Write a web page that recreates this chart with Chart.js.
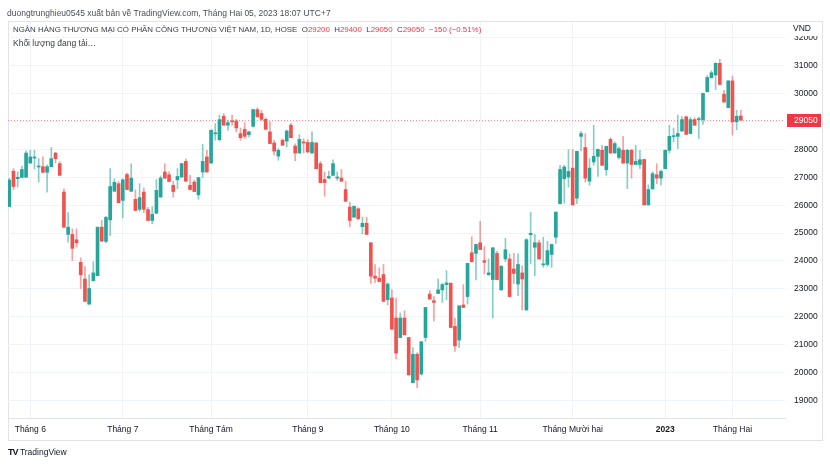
<!DOCTYPE html>
<html>
<head>
<meta charset="utf-8">
<script src="https://cdn.jsdelivr.net/npm/chart.js@4.4.0/dist/chart.umd.min.js"></script>
<style>
  body { margin: 0; background: #fff; width: 830px; height: 464px; overflow: hidden; font-family: "Liberation Sans", Arial, sans-serif; }
  #frame { position: absolute; left: 8px; top: 21px; width: 815px; height: 420px; border: 1px solid #e0e3eb; box-sizing: border-box; }
  canvas { position: absolute; left: 0; top: 0; }
  .txt { position: absolute; white-space: nowrap; font-size: 8.5px; color: #131722; z-index: 2; }
  .r { color: #f23645; }
</style>
</head>
<body>
<div id="frame"></div>
<canvas id="candleChart" width="830" height="464"></canvas>
<div class="txt" style="left:7px;top:8px;color:#4a4d55">duongtrunghieu0545 xuất bản về TradingView.com, Tháng Hai 05, 2023 18:07 UTC+7</div>
<div class="txt" style="left:13px;top:25px;font-size:7.9px;color:#3a3d45">NGÂN HÀNG THƯƠNG MẠI CỔ PHẦN CÔNG THƯƠNG VIỆT NAM, 1D, HOSE&nbsp; O<span class="r">29200</span>&nbsp; H<span class="r">29400</span>&nbsp; L<span class="r">29050</span>&nbsp; C<span class="r">29050</span>&nbsp; <span class="r">−150 (−0.51%)</span></div>
<div class="txt" style="left:13px;top:38px;color:#3a3d45">Khối lượng đang tải…</div>
<div class="txt" style="left:8px;top:447px;color:#131722"><b style="font-size:9px;letter-spacing:-1px">TV</b>&nbsp;TradingView</div>
<script>
// ===============================
//     DATOS (VND, 1D, HOSE)
// ===============================
const opens = [25950,27220,26950,27000,27000,27510,27690,27370,27380,27180,27380,27870,27490,26470,24950,24950,24760,23950,23350,22450,23290,23470,25210,24700,25470,
  26500,26770,26170,27100,26500,26210,25850,26470,25840,25450,25710,26290,27190,27090,26710,26910,27010,27570,26710,26830,26370,27190,27730,27510,28560,
  28350,29190,28870,29020,29020,28570,28720,28530,28830,29430,29290,29080,28630,28230,27760,28330,28300,28870,28120,27870,28270,28250,27870,28230,27490,
  26920,26970,27070,26970,26970,26560,25930,25570,25870,25230,25350,24650,23450,23380,23510,22610,22670,21950,21250,21950,21250,19630,20650,19940,21250,
  22810,22570,22830,22960,23150,23200,21650,21160,22420,22720,24290,24270,24650,24010,23500,23330,24270,22960,24070,24070,23710,23170,23570,22240,24940,
  24490,24650,23860,23870,24230,24850,26050,26950,27010,27330,26250,28470,28070,26860,27550,27750,27970,27270,28360,27870,27710,27970,27510,27970,27460,
  27460,27640,26010,26590,27090,26970,27310,27970,28460,28470,28660,29170,28570,29070,29070,29070,30070,30570,30670,31090,29980,29500,30460,28990,29200];
const highs = [26970,27310,27200,27400,27950,27970,27970,27670,27730,27450,28070,27900,27570,26590,25730,25150,25150,24110,23800,23500,23970,25210,25450,25600,27310,
  26950,26850,26950,27150,27490,26550,26770,26620,25920,25950,26920,27050,27490,27200,26850,27310,27500,27650,27070,26900,27000,28180,27970,28700,28930,
  29230,29290,29050,29230,29080,28770,28960,28660,29450,29500,29400,29130,28990,28330,28030,28380,28700,28940,28200,28530,28380,28350,28630,28250,27570,
  27190,27220,27630,27190,27280,26860,26110,25970,25910,25570,25570,24660,23870,23750,23870,23210,22960,22670,22130,22210,21260,20890,20700,21100,22330,
  22930,22720,23350,23200,23650,23210,21950,22390,23150,23920,24870,24600,25420,24520,24070,24480,24350,23830,24810,24250,24270,24250,23830,24800,25750,
  24950,24750,24850,24700,24600,25760,27430,27430,27990,27990,27940,28650,28570,27670,28870,28020,28150,28120,28420,28270,28080,28470,28000,28000,28150,
  27970,27650,26730,27200,27490,27270,27980,28870,28770,29230,29180,29200,29150,29140,29160,30020,30650,30820,31110,31230,30130,30470,30630,29410,29400];
const lows = [25950,26560,26650,26980,27000,27500,27300,26830,27170,26470,27380,27510,27060,25200,24670,24010,24490,23010,22540,22440,23280,23470,24700,24650,24910,
  26490,26080,25550,26550,26490,25800,25780,25730,25440,25330,25700,26280,26960,26840,26290,26590,27000,26850,26550,26480,26210,26990,27180,27500,28330,
  28300,28860,28690,28870,28630,28330,28390,28450,28800,29160,29050,28710,28200,27790,27610,28150,28090,28410,27590,27860,27870,27880,27860,27300,26800,
  26320,26960,27060,26890,26850,26130,25230,25560,25490,24970,24940,23190,23230,23250,22540,22420,21540,20480,21240,21340,19900,19620,19450,19900,21110,
  22620,21850,22830,22510,22610,21600,20750,20890,22320,22450,23960,23320,24400,23530,23490,21950,23320,22950,23970,22710,23190,22750,22240,22230,23890,
  23470,24060,23770,23800,23770,24630,26040,26070,26650,26000,26050,27950,26830,26710,27430,27030,27420,27070,27860,27860,27650,27500,26590,26970,27450,
  27310,26000,26000,26550,26770,26730,27300,27870,28270,28030,28650,28530,28560,28850,28390,28900,30060,30560,30150,30320,29690,29490,28510,28710,29050];
const closes = [26900,26670,27000,27280,27870,27730,27720,27390,27180,27380,27670,27670,27070,25210,25210,24450,24650,23500,22550,23010,23570,25210,24710,25560,26670,
  26820,26090,26910,26560,26970,25810,26270,25850,25450,25670,26530,26970,26970,26850,26490,27030,27490,26860,26560,26490,26990,27570,27190,28690,28580,
  29070,28870,28960,28990,28770,28420,28470,28630,29430,29170,29080,28720,28210,27940,27970,28150,28660,28420,27870,28360,28230,27910,28250,27310,26810,
  26810,27030,27490,27010,26860,26140,25450,25960,25510,25350,24950,23450,23380,23260,22550,23170,21550,20690,21950,21350,19910,20650,19730,21100,22330,
  22630,22510,22960,23150,23210,21610,20950,22390,22330,23910,23970,24590,24410,23950,23570,24470,23330,23810,24400,22720,23550,23870,23350,24760,24990,
  24650,24070,23880,24370,24590,25750,27280,27370,27210,26010,27930,28570,26970,27330,27750,28000,27430,28110,27870,28210,28030,27510,27970,27460,27570,
  27630,26010,26560,27130,26970,27210,27970,28470,28480,28570,29070,28540,29070,28870,29090,30010,30580,30750,31090,30330,29700,30460,28990,29190,29050];

// Ejes
const monthTicks = [5, 27, 48, 71, 91, 112, 134, 156, 172];
const monthLabels = ["Tháng 6", "Tháng 7", "Tháng Tám", "Tháng 9", "Tháng 10", "Tháng 11", "Tháng Mười hai", "2023", "Tháng Hai"];
const priceTicks = [19000, 20000, 21000, 22000, 23000, 24000, 25000, 26000, 27000, 28000, 29000, 30000, 31000, 32000];
const lastPrice = 29050;

const UP = "#26a69a", DOWN = "#ef5350";
const UP_WICK = "rgba(38,166,154,0.55)", DOWN_WICK = "rgba(239,83,80,0.55)";
const isUp = closes.map((c, i) => c >= opens[i]);
const FONT = "'Liberation Sans', Arial, sans-serif";

// línea de último precio + etiqueta VND
const priceLinePlugin = {
  id: "priceLine",
  beforeDatasetsDraw(chart) {
    const { ctx, chartArea } = chart;
    const y = Math.round(chart.scales.y.getPixelForValue(lastPrice)) + 0.5;
    ctx.save();
    ctx.strokeStyle = "rgba(242,54,69,0.55)";
    ctx.setLineDash([1, 2]);
    ctx.lineWidth = 1;
    ctx.beginPath();
    ctx.moveTo(chartArea.left, y);
    ctx.lineTo(chartArea.right, y);
    ctx.stroke();
    ctx.restore();
  },
  afterDraw(chart) {
    const { ctx, chartArea } = chart;
    const y = chart.scales.y.getPixelForValue(lastPrice);
    ctx.save();
    // etiqueta roja del precio
    ctx.fillStyle = "#f23645";
    ctx.fillRect(chartArea.right + 2, Math.round(y) - 6, 34, 13);
    ctx.fillStyle = "#fff";
    ctx.font = "8.5px " + FONT;
    ctx.textBaseline = "middle";
    ctx.fillText(String(lastPrice), chartArea.right + 9, Math.round(y) + 0.5);
    // VND (tapa la parte alta de 32000, como en el original)
    ctx.fillStyle = "#fff";
    ctx.fillRect(chartArea.right + 1, 22, 36, 14);
    ctx.fillStyle = "#131722";
    ctx.fillText("VND", chartArea.right + 8, 28.5);
    ctx.restore();
  }
};

new Chart(document.getElementById("candleChart").getContext("2d"), {
  type: "bar",
  data: {
    datasets: [
      {
        label: "Thân",
        data: opens.map((o, i) => ({ x: i, y: [o, closes[i]] })),
        backgroundColor: isUp.map(u => u ? UP : DOWN),
        barThickness: 3,
        minBarLength: 1,
        grouped: false,
        order: 0
      },
      {
        label: "Bóng",
        data: lows.map((l, i) => ({ x: i, y: [l, highs[i]] })),
        backgroundColor: isUp.map(u => u ? UP_WICK : DOWN_WICK),
        barThickness: 1,
        grouped: false,
        order: 1
      }
    ]
  },
  options: {
    responsive: false,
    animation: false,
    layout: { padding: { left: 8, top: 22, right: 8, bottom: 24 } },
    plugins: { legend: { display: false }, tooltip: { enabled: false } },
    scales: {
      x: {
        type: "linear",
        min: -0.3,
        max: 184.5,
        offset: false,
        afterBuildTicks: s => { s.ticks = monthTicks.map(v => ({ value: v })); },
        afterFit: s => { s.height = 22; },
        ticks: {
          autoSkip: false,
          maxRotation: 0,
          padding: 7,
          color: "#131722",
          font: ctx => ({ family: FONT, size: 8.5, weight: ctx.tick && ctx.tick.value === 156 ? "bold" : "normal" }),
          callback: v => monthLabels[monthTicks.indexOf(v)]
        },
        grid: { color: "#f0f3fa", drawTicks: false, offset: false },
        border: { color: "#e0e3eb" }
      },
      y: {
        position: "right",
        min: 18363,
        max: 32572,
        afterBuildTicks: s => { s.ticks = priceTicks.map(v => ({ value: v })); },
        afterFit: s => { s.width = 37; },
        ticks: {
          padding: 9,
          color: "#131722",
          font: { family: FONT, size: 8.5 },
          callback: v => String(v)
        },
        grid: { color: "#f0f3fa", drawTicks: false },
        border: { display: false }
      }
    }
  },
  plugins: [priceLinePlugin]
});
</script>
</body>
</html>
